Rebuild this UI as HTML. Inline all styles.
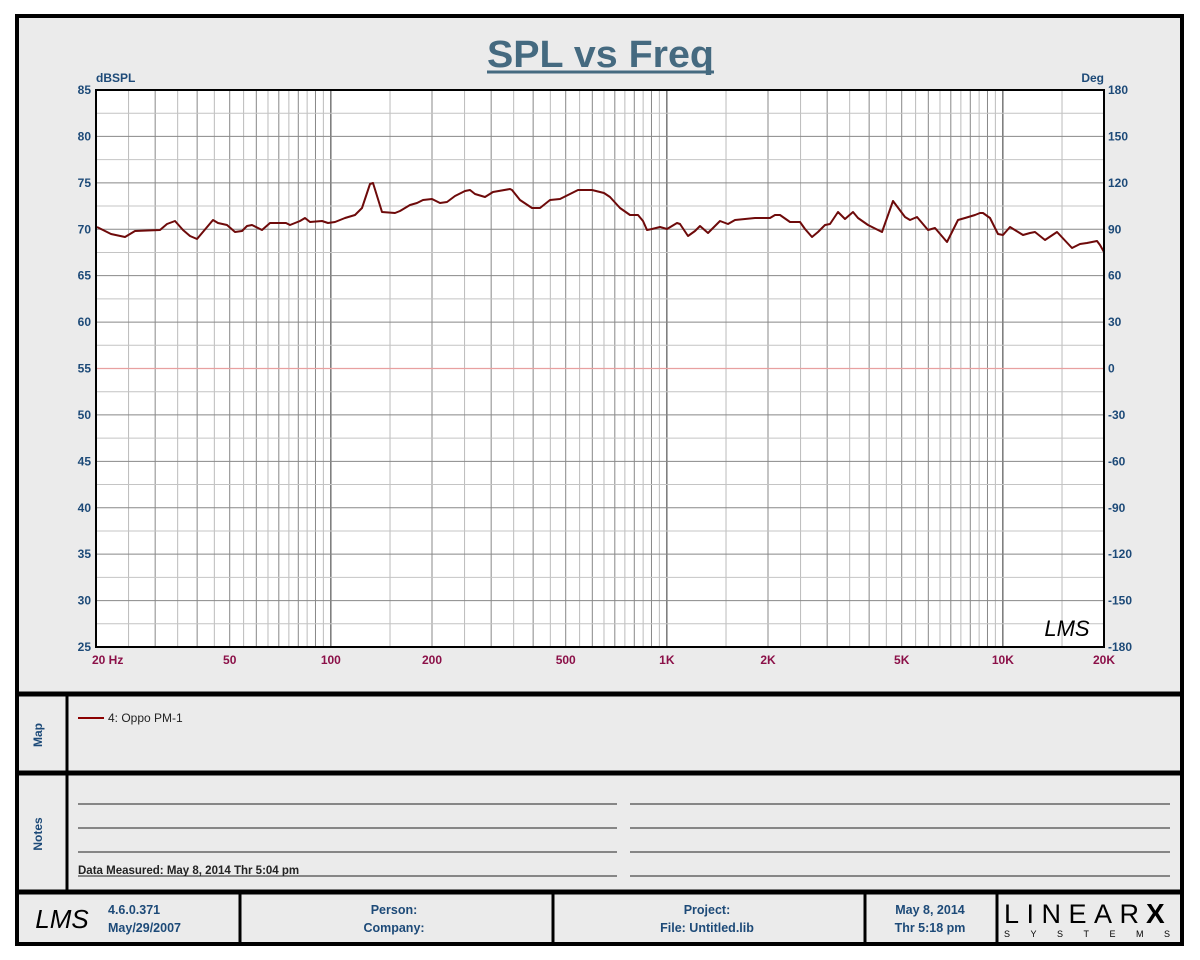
<!DOCTYPE html>
<html><head><meta charset="utf-8"><style>
html,body{margin:0;padding:0;background:#fff;}
svg{display:block;}
text{font-family:"Liberation Sans",Arial,sans-serif;}
</style></head><body>
<svg id="s" width="1200" height="960" xmlns="http://www.w3.org/2000/svg">
<rect x="0" y="0" width="1200" height="960" fill="#fff"/>
<rect x="17" y="16" width="1165" height="928" fill="#ebebeb" stroke="#000" stroke-width="4"/>
<line x1="17" y1="694" x2="1182" y2="694" stroke="#000" stroke-width="5"/>
<line x1="17" y1="773" x2="1182" y2="773" stroke="#000" stroke-width="5"/>
<line x1="17" y1="892" x2="1182" y2="892" stroke="#000" stroke-width="5"/>
<line x1="67" y1="694" x2="67" y2="892" stroke="#000" stroke-width="3"/>
<line x1="240" y1="892" x2="240" y2="942" stroke="#000" stroke-width="3"/>
<line x1="553" y1="892" x2="553" y2="942" stroke="#000" stroke-width="3"/>
<line x1="865" y1="892" x2="865" y2="942" stroke="#000" stroke-width="3"/>
<line x1="997" y1="892" x2="997" y2="942" stroke="#000" stroke-width="3"/>
<text x="487" y="67" font-size="38" font-weight="bold" fill="#456a80" textLength="227" lengthAdjust="spacingAndGlyphs">SPL vs Freq</text>
<line x1="487" y1="72" x2="714" y2="72" stroke="#456a80" stroke-width="3"/>
<rect x="96" y="90" width="1008" height="557" fill="#fff"/>
<g id="grid"></g>
<line x1="96" y1="368.5" x2="1104" y2="368.5" stroke="#e8a0a0" stroke-width="1.2"/>
<polyline id="curve" fill="none" stroke="#6e0a0a" stroke-width="2" stroke-linejoin="round"/>
<rect x="96" y="90" width="1008" height="557" fill="none" stroke="#000" stroke-width="2"/>
<text x="96" y="82" font-size="12" font-weight="bold" fill="#1d4a78">dBSPL</text>
<text x="1104" y="82" font-size="12" font-weight="bold" fill="#1d4a78" text-anchor="end">Deg</text>
<g id="labels" font-size="12" font-weight="bold"></g>
<text x="1067" y="636" font-size="22" font-style="italic" fill="#000" text-anchor="middle" font-family="Liberation Serif,serif">LMS</text>
<text x="42" y="735" font-size="12" font-weight="bold" fill="#1d4a78" text-anchor="middle" transform="rotate(-90 42 735)">Map</text>
<text x="42" y="834" font-size="12" font-weight="bold" fill="#1d4a78" text-anchor="middle" transform="rotate(-90 42 834)">Notes</text>
<line x1="78" y1="718" x2="104" y2="718" stroke="#8b0000" stroke-width="2"/>
<text x="108" y="722" font-size="12" fill="#222">4: Oppo PM-1</text>
<g stroke="#222" stroke-width="1">
<line x1="78" y1="804" x2="617" y2="804"/><line x1="78" y1="828" x2="617" y2="828"/><line x1="78" y1="852" x2="617" y2="852"/><line x1="78" y1="876" x2="617" y2="876"/>
<line x1="630" y1="804" x2="1170" y2="804"/><line x1="630" y1="828" x2="1170" y2="828"/><line x1="630" y1="852" x2="1170" y2="852"/><line x1="630" y1="876" x2="1170" y2="876"/>
</g>
<text x="78" y="874" font-size="11.5" font-weight="bold" fill="#222">Data Measured: May  8, 2014  Thr  5:04 pm</text>
<text x="62" y="928" font-size="26" font-style="italic" fill="#000" text-anchor="middle" font-family="Liberation Serif,serif">LMS</text>
<g font-size="12.5" font-weight="bold" fill="#1d4a78">
<text x="108" y="914">4.6.0.371</text><text x="108" y="932">May/29/2007</text>
<text x="394" y="914" text-anchor="middle">Person:</text><text x="394" y="932" text-anchor="middle">Company:</text>
<text x="707" y="914" text-anchor="middle">Project:</text><text x="707" y="932" text-anchor="middle">File: Untitled.lib</text>
<text x="930" y="914" text-anchor="middle">May  8, 2014</text><text x="930" y="932" text-anchor="middle">Thr  5:18 pm</text>
</g>
<text x="1004" y="923" font-size="27" fill="#000" font-family="Liberation Serif,serif" textLength="135" lengthAdjust="spacing">LINEAR</text>
<text x="1146" y="923" font-size="28" font-weight="bold" fill="#000">X</text>
<text x="1004" y="937" font-size="9" fill="#000" textLength="166" lengthAdjust="spacing">SYSTEMS</text>
</svg>
<script>
var NS="http://www.w3.org/2000/svg";
function el(t,a,p){var e=document.createElementNS(NS,t);for(var k in a)e.setAttribute(k,a[k]);p.appendChild(e);return e;}
var g=document.getElementById("grid"),L=document.getElementById("labels");
function fx(f){return 96+336*Math.log10(f/20);}
[10,100,1000,10000].forEach(function(d){
  for(var m=1;m<=10;m+=0.5){var f=m*d;if(f<=20||f>=20000)continue;
    var major=(m===10||m===1);var whole=(m%1===0);
    var c=major?"#555":(whole?"#888":"#bbb");
    var x=fx(f);el("line",{x1:x,y1:90,x2:x,y2:647,stroke:c,"stroke-width":1},g);}
});
for(var i=1;i<24;i++){var y=90+i*557/24;el("line",{x1:96,y1:y,x2:1104,y2:y,stroke:(i%2?"#c4c4c4":"#888"),"stroke-width":1},g);}
for(var i=0;i<=12;i++){var y=90+i*557/12;
  var t=el("text",{x:91,y:y+4,"text-anchor":"end",fill:"#1d4a78"},L);t.textContent=85-5*i;
  var t2=el("text",{x:1108,y:y+4,fill:"#1d4a78"},L);t2.textContent=180-30*i;}
[[20,"20  Hz",92,"start"],[50,"50"],[100,"100"],[200,"200"],[500,"500"],[1000,"1K"],[2000,"2K"],[5000,"5K"],[10000,"10K"],[20000,"20K"]].forEach(function(a){
  var t=el("text",{x:a[2]||fx(a[0]),y:664,"text-anchor":a[3]||"middle",fill:"#8b1048"},L);t.textContent=a[1];});
var pts=[[97,227],[101,229],[111,234],[125,237],[135,231],[160,230],[167,224],[175,221],[183,230],[190,236],[197,239],[213,220],[218,223],[227,225],[235,232],[242,231],[247,226],[252,225],[262,230],[270,223],[286,223],[290,225],[300,221],[305,218],[310,222],[322,221],[328,223],[335,222],[345,218],[355,215],[362,208],[370,184],[373,183],[382,212],[395,213],[400,211],[410,205],[417,203],[423,200],[432,199],[440,203],[447,202],[455,196],[465,191],[470,190],[475,194],[485,197],[493,192],[510,189],[512,190],[520,200],[532,208],[540,208],[550,200],[560,199],[570,194],[578,190],[592,190],[600,192],[604,193],[610,197],[620,208],[630,215],[638,215],[643,221],[647,230],[652,229],[660,227],[667,229],[677,223],[680,224],[688,236],[695,231],[700,226],[708,233],[720,221],[728,224],[735,220],[745,219],[755,218],[770,218],[775,215],[780,215],[790,222],[800,222],[805,229],[812,237],[818,232],[825,225],[830,224],[838,212],[845,219],[853,212],[858,218],[868,225],[882,232],[893,201],[905,217],[910,220],[917,217],[928,230],[935,228],[947,242],[958,220],[965,218],[975,215],[980,213],[983,213],[990,218],[998,234],[1003,235],[1010,227],[1023,235],[1030,233],[1035,232],[1045,240],[1057,232],[1072,248],[1080,244],[1087,243],[1097,241],[1100,245],[1104,252]];
document.getElementById("curve").setAttribute("points",pts.map(function(p){return p.join(",")}).join(" "));
</script>
</body></html>
